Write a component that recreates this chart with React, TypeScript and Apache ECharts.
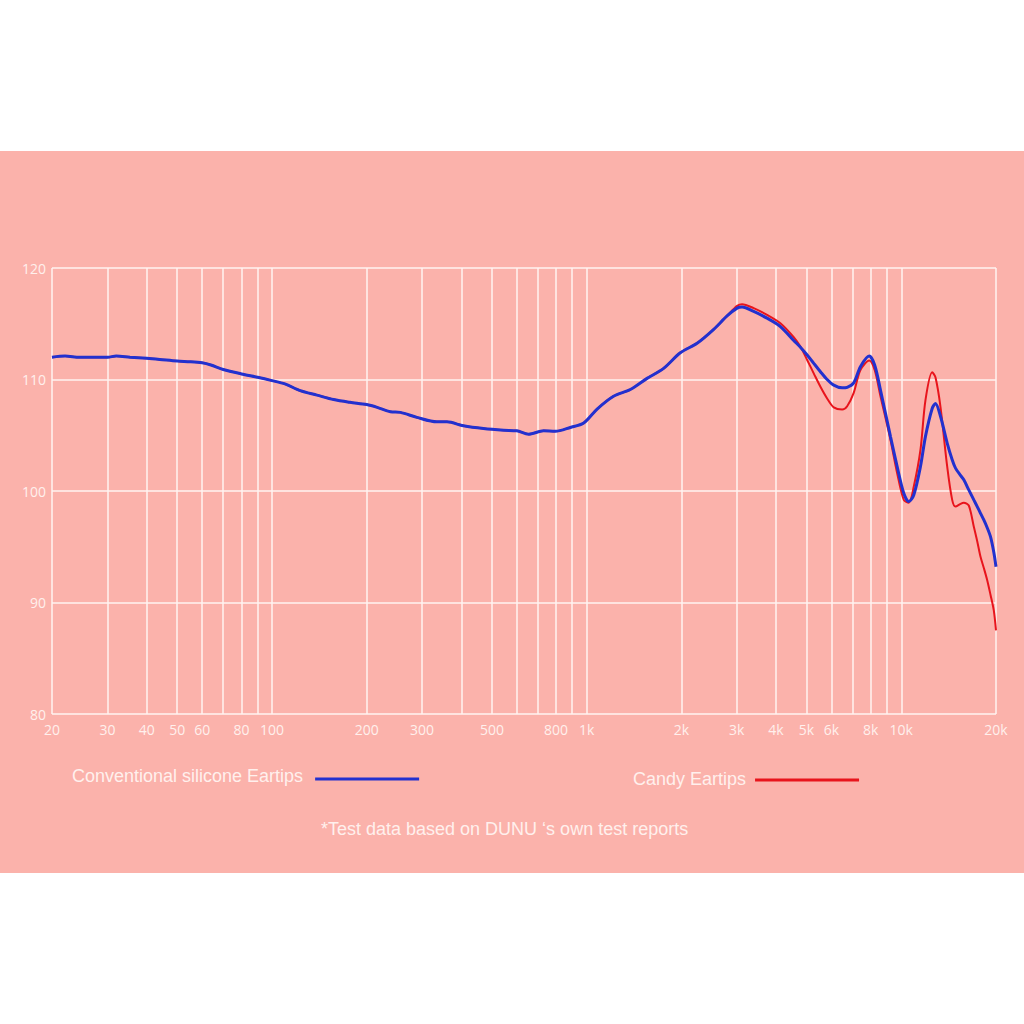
import React, { useEffect, useRef } from "react";
import * as echarts from "echarts";

// Frequencies (Hz) and SPL (dB) shared by both curves below ~2.8 kHz
const lowFreq = [20, 22, 24.5, 30, 32, 35.4, 40, 44, 50, 55, 60, 64, 70, 80, 90, 100, 110, 123, 139, 157, 177, 200, 216, 238, 256, 289, 334, 360, 406, 470, 545, 600, 654, 730, 795, 888, 979, 1080, 1218, 1377, 1556, 1757, 1985, 2244, 2535, 2795];
const lowSpl = [112.0, 112.1, 112.0, 112.0, 112.1, 112.0, 111.9, 111.8, 111.65, 111.6, 111.5, 111.3, 110.9, 110.5, 110.2, 109.9, 109.6, 109.0, 108.6, 108.2, 107.95, 107.75, 107.5, 107.1, 107.05, 106.6, 106.2, 106.2, 105.85, 105.6, 105.45, 105.4, 105.1, 105.4, 105.35, 105.7, 106.1, 107.35, 108.5, 109.1, 110.1, 111.0, 112.4, 113.25, 114.5, 115.7];

// High-frequency part, where the two eartips differ
const highFreq = [3008, 3119, 3395, 3745, 4129, 4552, 4780, 5022, 5270, 5535, 5813, 6101, 6488, 6730, 7060, 7416, 7910, 8230, 8588, 9238, 9703, 10184, 10564, 10958, 11508, 11937, 12537, 12842, 13322, 13992, 14514, 14870, 15426, 15802, 16388, 17004, 17432, 17858, 18294, 18754, 19210, 19680, 20000];
const conventionalHigh = [116.4, 116.5, 116.1, 115.5, 114.75, 113.5, 112.9, 112.2, 111.45, 110.7, 110.0, 109.5, 109.25, 109.3, 109.7, 111.15, 112.1, 111.3, 109.05, 104.9, 102.2, 99.8, 99.05, 99.65, 102.2, 104.9, 107.4, 107.85, 106.7, 104.3, 102.8, 102.05, 101.4, 101.0, 100.1, 99.2, 98.6, 98.0, 97.4, 96.7, 95.9, 94.5, 93.2];
const candyHigh = [116.6, 116.75, 116.4, 115.8, 115.05, 113.8, 112.95, 111.75, 110.55, 109.35, 108.3, 107.5, 107.3, 107.6, 108.8, 110.85, 111.7, 110.85, 108.5, 104.6, 101.6, 99.2, 98.95, 100.4, 103.7, 108.15, 110.65, 110.2, 107.55, 102.2, 99.2, 98.6, 98.85, 98.95, 98.7, 96.8, 95.5, 94.1, 93.1, 92.0, 90.7, 89.3, 87.5];

const gridFreqs = [20, 30, 40, 50, 60, 70, 80, 90, 100, 200, 300, 400, 500, 600, 700, 800, 900, 1000, 2000, 3000, 4000, 5000, 6000, 7000, 8000, 9000, 10000, 20000];
const labelFreqs = [20, 30, 40, 50, 60, 80, 100, 200, 300, 500, 800, 1000, 2000, 3000, 4000, 5000, 6000, 8000, 10000, 20000];

const NAME_CONV = "Conventional silicone Eartips";
const NAME_CANDY = "Candy Eartips";
const FOOTNOTE = "*Test data based on DUNU \u2018s own test reports";

const GRID_COLOR = "#FFF3F0";
const TEXT_COLOR = "#FFF0ED";
const BLUE = "#2231CF";
const RED = "#E8141C";

// legend line icons: a 104x11 box whose visible bar sits below the middle
const ICON_BLUE = "path://M0,0L104,0L104,0.01L0,0.01ZM0,7L104,7L104,10L0,10ZM0,10.99L104,10.99L104,11L0,11Z";
const ICON_RED = "path://M0,0L104,0L104,0.01L0,0.01ZM0,5L104,5L104,8L0,8ZM0,10.99L104,10.99L104,11L0,11Z";

export default function App() {
  const ref = useRef<HTMLDivElement>(null);
  useEffect(() => {
    if (!ref.current) return;
    const chart = echarts.init(ref.current, null, { renderer: "svg" });
    const convData = lowFreq
      .map((f, i) => [f, lowSpl[i]])
      .concat(highFreq.map((f, i) => [f, conventionalHigh[i]]));
    const candyData = lowFreq
      .map((f, i) => [f, lowSpl[i]])
      .concat(highFreq.map((f, i) => [f, candyHigh[i]]));
    const legendText = (pad: number[]) => ({
      color: TEXT_COLOR,
      fontSize: 18,
      fontFamily: "Liberation Sans, Arial, sans-serif",
      padding: pad,
    });
    chart.setOption({
      animation: false,
      backgroundColor: "#FBB2AB",
      title: {
        text: FOOTNOTE,
        left: 316,
        top: 664,
        textStyle: {
          color: TEXT_COLOR,
          fontSize: 18,
          fontWeight: "normal",
          fontFamily: "Liberation Sans, Arial, sans-serif",
        },
      },
      legend: [
        {
          data: [{ name: NAME_CONV, icon: ICON_BLUE }],
          left: 67,
          top: 611,
          align: "right",
          itemWidth: 104,
          itemHeight: 11,
          symbolKeepAspect: false,
          selectedMode: false,
          itemStyle: { color: BLUE, borderWidth: 0 },
          textStyle: legendText([0, 7, 0, 0]),
        },
        {
          data: [{ name: NAME_CANDY, icon: ICON_RED }],
          left: 628,
          top: 614,
          align: "right",
          itemWidth: 104,
          itemHeight: 11,
          symbolKeepAspect: false,
          selectedMode: false,
          itemStyle: { color: RED, borderWidth: 0 },
          textStyle: legendText([0, 4, 0, 0]),
        },
      ],
      grid: { left: 52, right: 28, top: 117, bottom: 159, containLabel: false, outerBoundsMode: "none" },
      xAxis: {
        type: "log",
        logBase: 10,
        min: 20,
        max: 20000,
        axisLine: { show: false },
        axisTick: { show: false },
        splitLine: { show: false },
        minorTick: { show: false },
        minorSplitLine: { show: false },
        axisLabel: {
          customValues: labelFreqs,
          color: TEXT_COLOR,
          fontSize: 14,
          fontFamily: "Open Sans, sans-serif",
          margin: 8,
          formatter: (v: number) => (v >= 1000 ? v / 1000 + "k" : String(v)),
        },
      },
      yAxis: {
        type: "value",
        min: 80,
        max: 120,
        interval: 10,
        axisLine: { show: false },
        axisTick: { show: false },
        splitLine: { show: true, lineStyle: { color: GRID_COLOR, width: 1.5 } },
        axisLabel: {
          color: TEXT_COLOR,
          fontSize: 14,
          fontFamily: "Open Sans, sans-serif",
          margin: 6,
        },
      },
      series: [
        {
          name: NAME_CANDY,
          type: "line",
          data: candyData,
          showSymbol: false,
          symbol: "none",
          smooth: 0.3,
          z: 3,
          color: RED,
          lineStyle: { color: RED, width: 2 },
          markLine: {
            silent: true,
            symbol: ["none", "none"],
            z: 1,
            animation: false,
            label: { show: false },
            emphasis: { disabled: true },
            lineStyle: { color: GRID_COLOR, width: 1.5, type: "solid" },
            data: gridFreqs.map((f) => ({ xAxis: f })),
          },
        },
        {
          name: NAME_CONV,
          type: "line",
          data: convData,
          showSymbol: false,
          symbol: "none",
          smooth: 0.3,
          z: 4,
          color: BLUE,
          lineStyle: { color: BLUE, width: 3 },
        },
      ],
    });
    return () => chart.dispose();
  }, []);
  return (
    <div
      ref={ref}
      style={{ position: "absolute", left: 0, top: 151, width: 1024, height: 722 }}
    />
  );
}
